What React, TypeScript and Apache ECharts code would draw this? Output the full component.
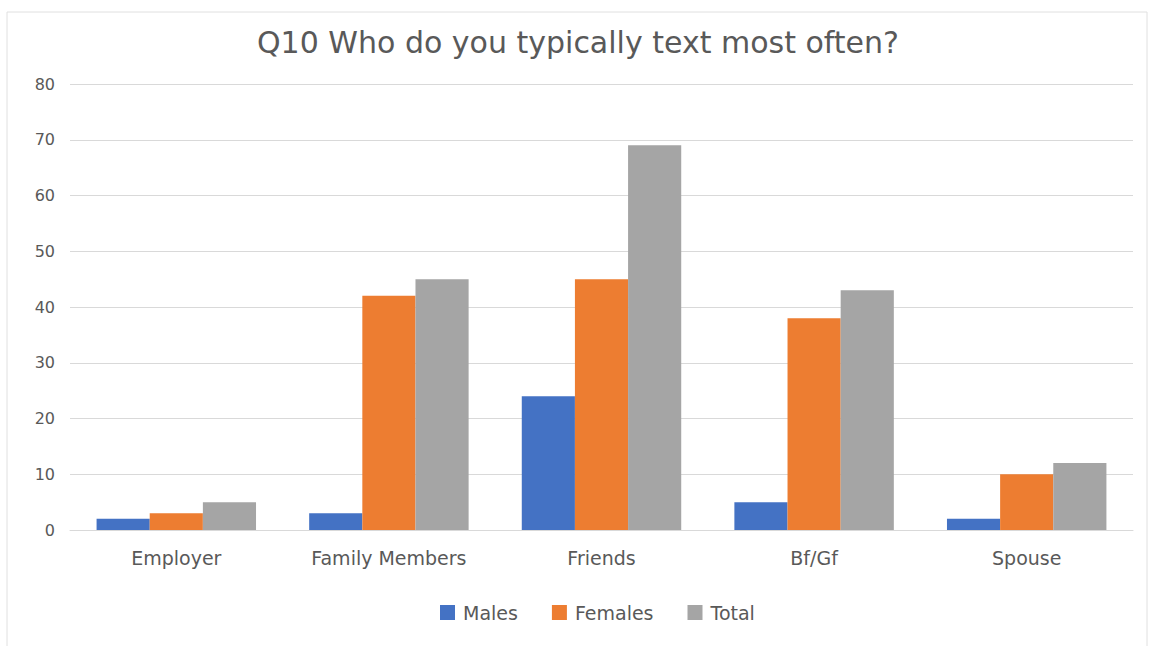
import React, { useEffect, useRef } from "react";
import * as echarts from "echarts";

const categories = ["Employer", "Family Members", "Friends", "Bf/Gf", "Spouse"];
const males = [2, 3, 24, 5, 2];
const females = [3, 42, 45, 38, 10];
const total = [5, 45, 69, 43, 12];
const seriesNames = ["Males", "Females", "Total"];
const colors = ["#4472C4", "#ED7D31", "#A5A5A5"];
const titleText = "Q10 Who do you typically text most often?";

export default function App() {
  const ref = useRef<HTMLDivElement>(null);
  useEffect(() => {
    const chart = echarts.init(ref.current!, null, { renderer: "svg" });
    const font = "'DejaVu Sans', sans-serif";
    const data = [males, females, total];
    chart.setOption({
      animation: false,
      backgroundColor: "#ffffff",
      title: {
        text: titleText,
        left: "center",
        top: 22,
        textStyle: { color: "#595959", fontSize: 30, fontWeight: "normal", fontFamily: font },
      },
      graphic: [
        {
          type: "rect",
          shape: { x: 7, y: 12, width: 1140, height: 640 },
          style: { fill: "none", stroke: "#e0e0e0", lineWidth: 1 },
          silent: true,
        },
      ],
      legend: {
        bottom: 19,
        left: 435,
        itemWidth: 15,
        itemHeight: 15,
        itemGap: 34,
        icon: "rect",
        textStyle: { color: "#595959", fontSize: 19, fontFamily: font, padding: [0, 0, 0, 3] },
        data: seriesNames,
      },
      grid: { left: 70, right: 23, top: 84, bottom: 116, containLabel: false },
      xAxis: {
        type: "category",
        data: categories,
        axisLine: { lineStyle: { color: "#d9d9d9", width: 1 } },
        axisTick: { show: false },
        axisLabel: { color: "#595959", fontSize: 19, fontFamily: font, margin: 18 },
      },
      yAxis: {
        type: "value",
        min: 0,
        max: 80,
        interval: 10,
        axisLine: { show: false },
        axisTick: { show: false },
        splitLine: { lineStyle: { color: "#d9d9d9", width: 1 } },
        axisLabel: { color: "#595959", fontSize: 16, fontFamily: font, margin: 15 },
      },
      series: seriesNames.map((name, i) => ({
        name,
        type: "bar",
        data: data[i],
        barWidth: "25%",
        barGap: "0%",
        itemStyle: { color: colors[i] },
      })),
    });
    return () => chart.dispose();
  }, []);
  return (
    <div
      ref={ref}
      style={{ position: "absolute", left: 0, top: 0, width: 1156, height: 646 }}
    />
  );
}
